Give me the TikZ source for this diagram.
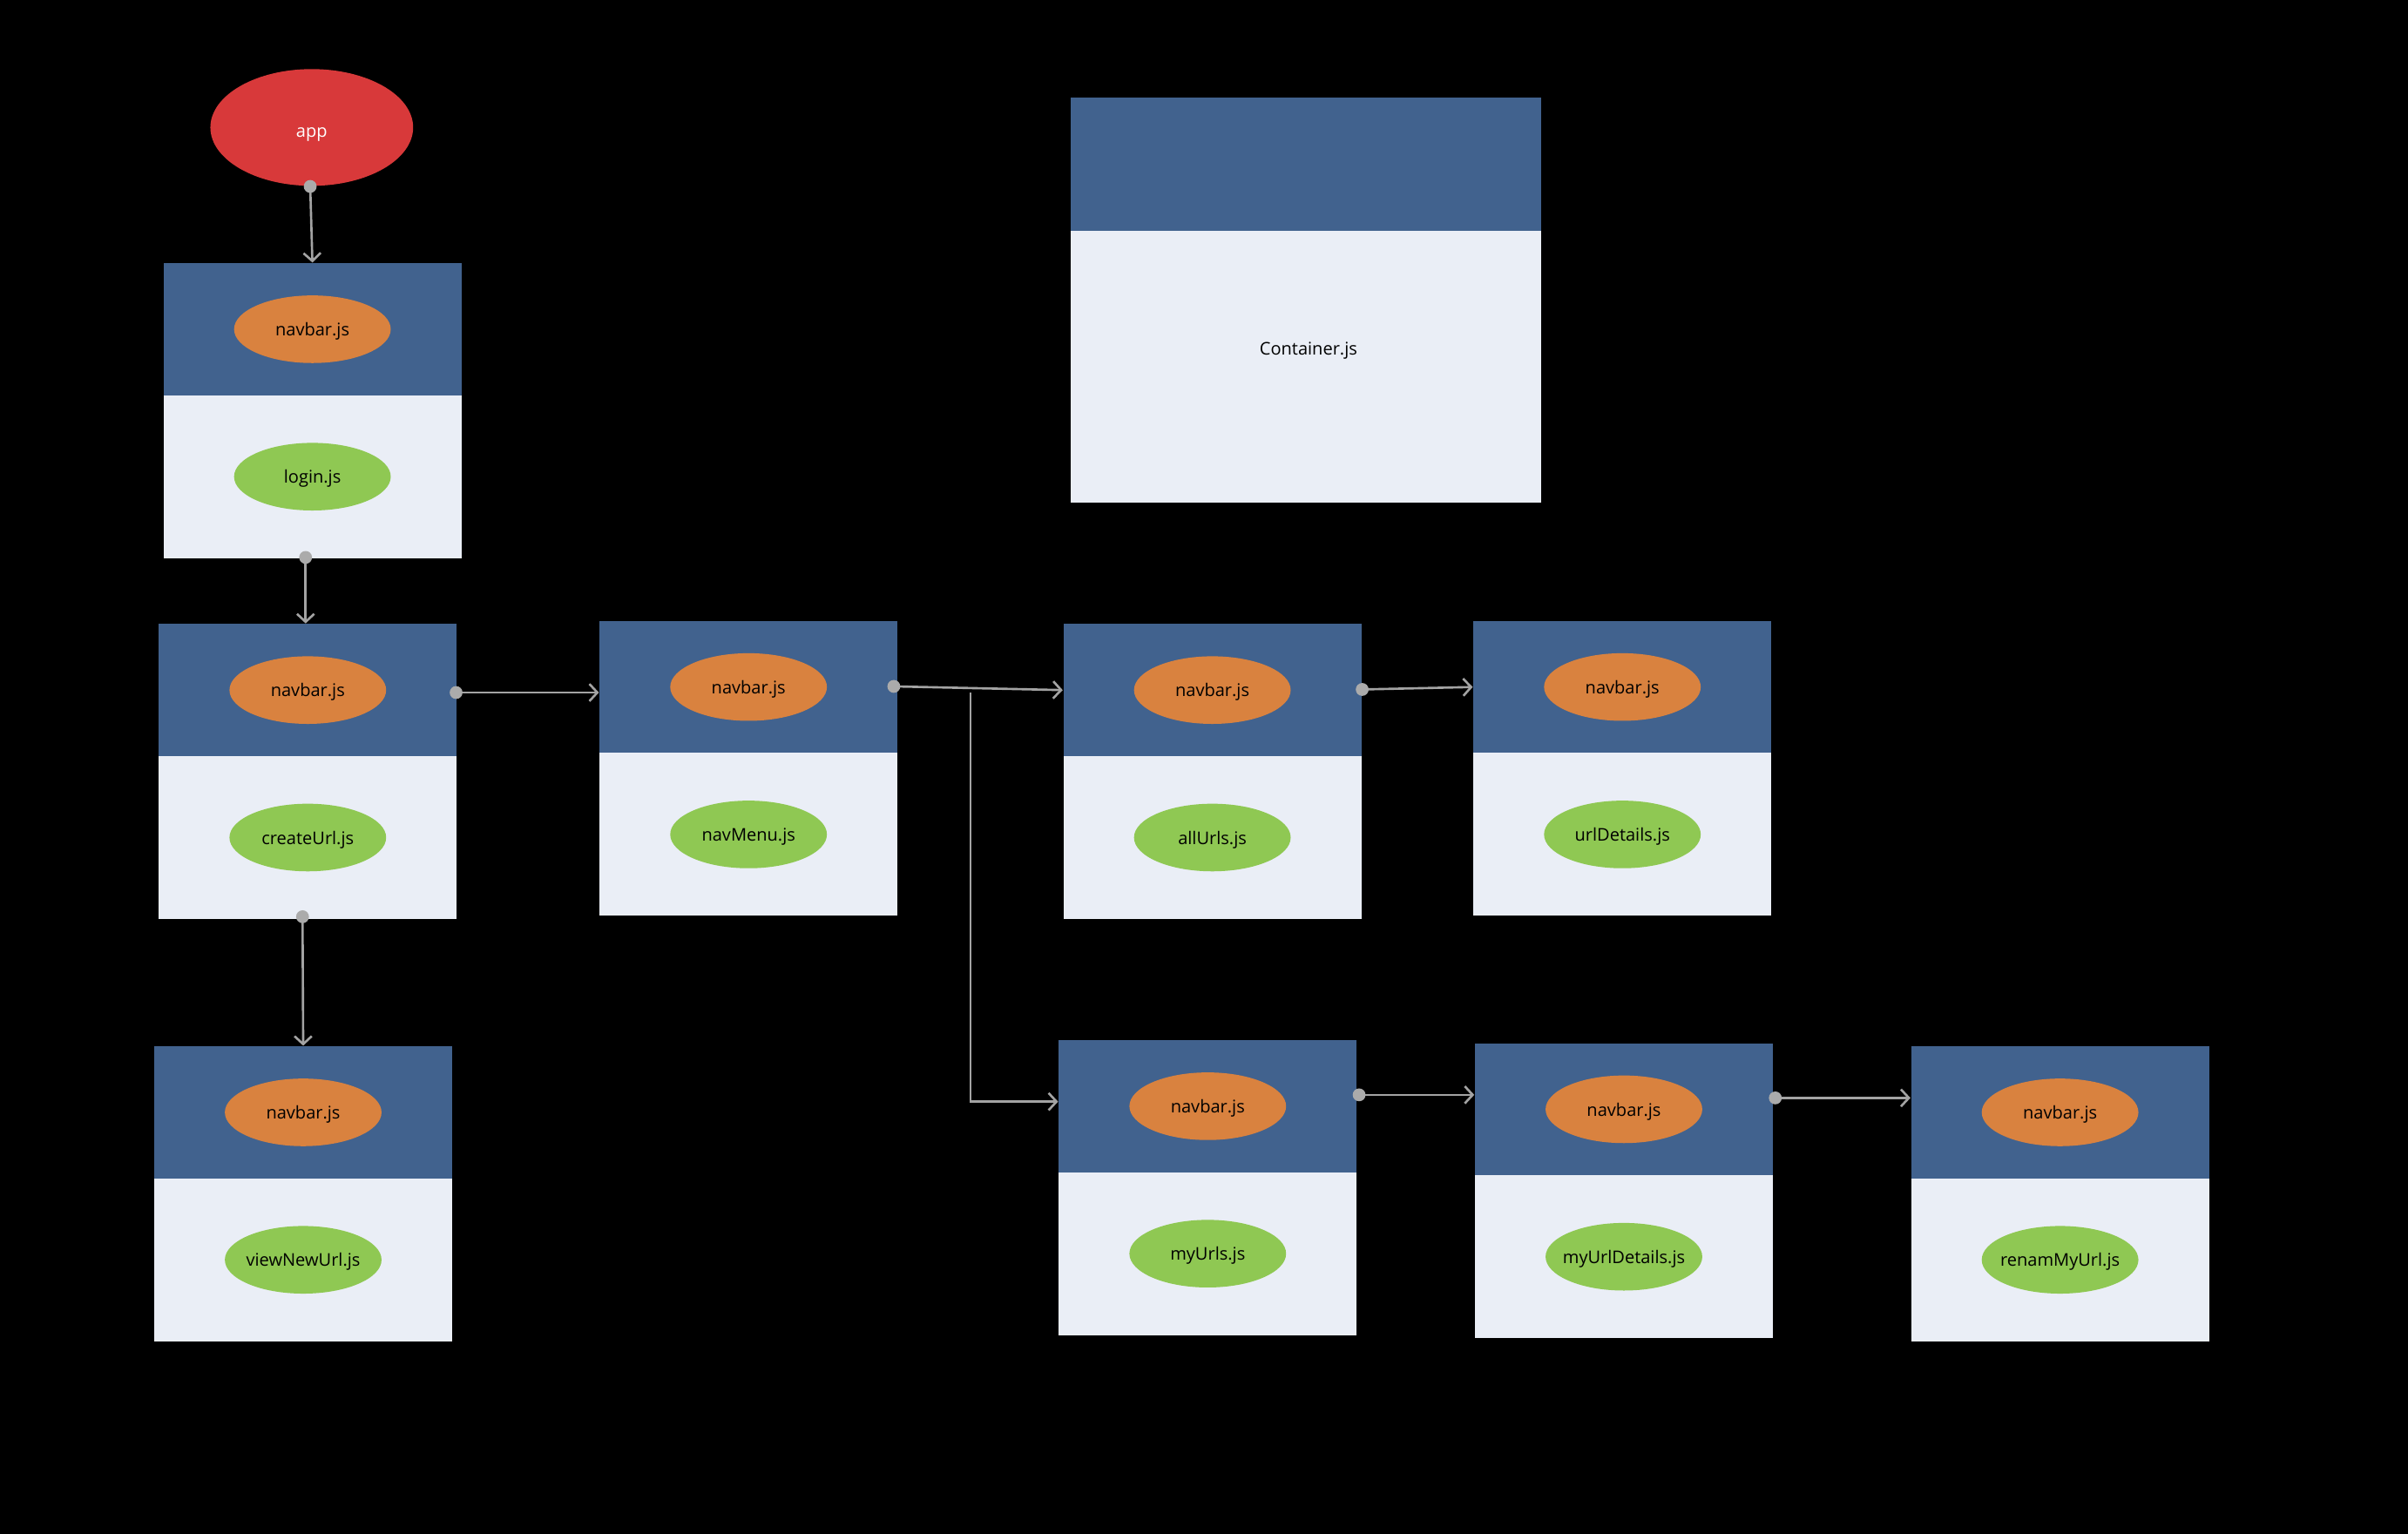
\documentclass[tikz,border=0pt]{standalone}
\usepackage{fontspec}
\setmainfont{Open Sans}
\usetikzlibrary{shapes.geometric,arrows.meta,calc}
\definecolor{hdrblue}{HTML}{41628E}
\definecolor{bodylight}{HTML}{EAEEF6}
\definecolor{navorange}{HTML}{D9823F}
\definecolor{compgreen}{HTML}{8FC853}
\definecolor{appred}{HTML}{D8393A}
\definecolor{linegrey}{HTML}{A3A3A3}
\definecolor{dotgrey}{HTML}{ABABAB}
\tikzset{
  lbl/.style={font=\fontsize{5.7}{6.5}\selectfont, text=black, inner sep=0pt, text depth=0pt},
  hdr/.style={rectangle, fill=hdrblue, draw=none, minimum width=3.42cm, minimum height=1.516cm, inner sep=0pt, anchor=north west},
  bdy/.style={rectangle, fill=bodylight, draw=none, minimum width=3.42cm, minimum height=1.869cm, inner sep=0pt, anchor=north west},
  nav/.style={ellipse, fill=navorange, draw=none, minimum width=1.798cm, minimum height=0.776cm, inner sep=0pt},
  comp/.style={ellipse, fill=compgreen, draw=none, minimum width=1.798cm, minimum height=0.776cm, inner sep=0pt},
  conn/.style={draw=linegrey, line width=0.75pt, -{Straight Barb[length=2.6pt,width=5.6pt,line width=0.75pt]}},
  dotc/.style={fill=dotgrey},
}
\newcommand{\compbox}[4]{%
  \node[hdr] (#1h) at (#2,#3) {};
  \node[bdy] (#1b) at (#2,#3+86) {};
  \node[nav, label={[lbl]center:navbar.js}] (#1n) at (#1h.center) {};
  \node[comp, label={[lbl]center:#4}] (#1c) at (#1b.center) {};
}
\begin{document}
\begin{tikzpicture}[x=0.017628cm, y=-0.017628cm]
\fill[black] (0,0) rectangle (1568,999);
\useasboundingbox (0,0) rectangle (1568,999);

% app
\node[ellipse, fill=appred, minimum width=2.327cm, minimum height=1.34cm, inner sep=0pt] (app) at (203,83) {};
\node[font=\fontsize{5.7}{6.5}\selectfont, text=white, inner sep=0pt, text depth=0pt] (apptxt) at (203,86) {app};

% container legend
\node[rectangle, fill=hdrblue, minimum width=5.394cm, minimum height=1.534cm, inner sep=0pt, anchor=north west] (conth) at (697,63) {};
\node[rectangle, fill=bodylight, minimum width=5.394cm, minimum height=3.12cm, inner sep=0pt, anchor=north west] (contb) at (697,150) {};
\node[lbl] (conttxt) at (852,227) {Container.js};

% boxes
\compbox{ba}{106}{171}{login.js}
\compbox{bb}{103}{406}{createUrl.js}
\compbox{bc}{100}{681}{viewNewUrl.js}
\compbox{bd}{390}{404}{navMenu.js}
\compbox{be}{692}{406}{allUrls.js}
\compbox{bf}{959}{404}{urlDetails.js}
\compbox{bg}{689}{677}{myUrls.js}
\compbox{bh}{960}{679}{myUrlDetails.js}
\compbox{bi}{1244}{681}{renamMyUrl.js}

% connectors
\coordinate (appo) at ($(app.south)+(-1,0)$);
\draw[conn] (appo) -- (bah.north);
\coordinate (bao) at (199,363);
\draw[conn] (bao) -- (bao |- bbh.north);
\coordinate (bbo) at (197,597);
\draw[conn] (bbo) -- (bch.north);
\coordinate (bbr) at (297,451);
\draw[conn] (bbr) -- (bbr -| bdh.west);
\coordinate (bdr) at (582,447);
\draw[conn] (bdr) -- (beh.west);
\coordinate (br) at (632,451);
\draw[conn] (br) |- ($(bgh.west)+(0,-3)$);
\coordinate (ber) at (887,449);
\draw[conn] (ber) -- (bfh.west);
\coordinate (bgr) at (885,713);
\draw[conn] (bgr) -- (bgr -| bhh.west);
\coordinate (bhr) at (1156,715);
\draw[conn] (bhr) -- (bhr -| bih.west);

% dots
\foreach \p in {appo,bao,bbo,bbr,bdr,ber,bgr,bhr}
  \fill[dotc] (\p) circle (2.1pt);
\end{tikzpicture}
\end{document}
